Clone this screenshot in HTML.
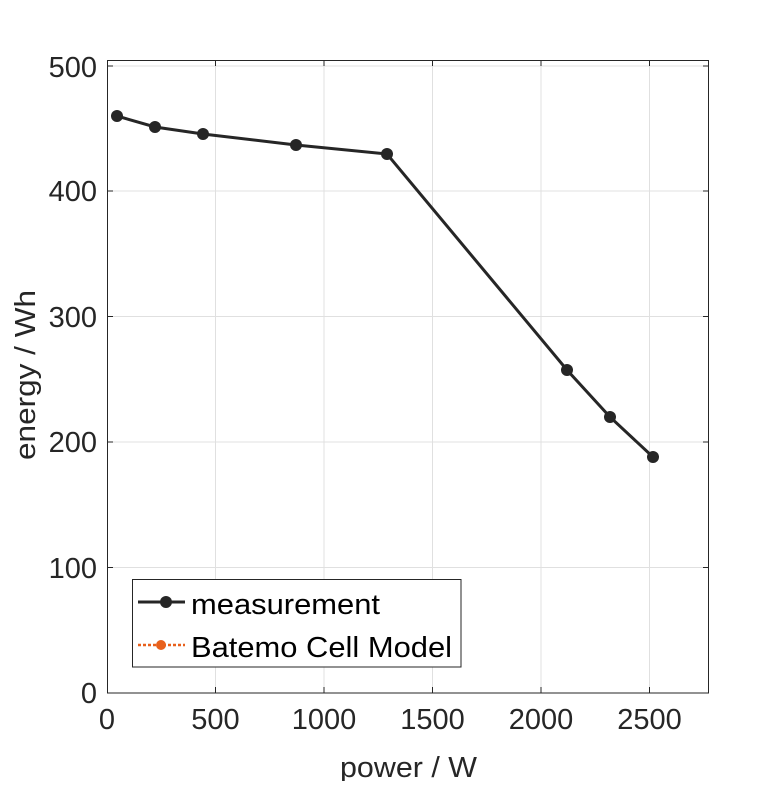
<!DOCTYPE html>
<html><head><meta charset="utf-8"><style>body{margin:0;background:#fff}</style></head><body>
<svg width="781" height="781" xmlns="http://www.w3.org/2000/svg" font-family="Liberation Sans, sans-serif">
<rect width="781" height="781" fill="#fff"/>
<g stroke="#e0e0e0" stroke-width="1">
<line x1="215.5" y1="60" x2="215.5" y2="693"/><line x1="324" y1="60" x2="324" y2="693"/><line x1="432.5" y1="60" x2="432.5" y2="693"/><line x1="541" y1="60" x2="541" y2="693"/><line x1="649.5" y1="60" x2="649.5" y2="693"/>
<line x1="107" y1="567.5" x2="709" y2="567.5"/><line x1="107" y1="442" x2="709" y2="442"/><line x1="107" y1="316.5" x2="709" y2="316.5"/><line x1="107" y1="191" x2="709" y2="191"/><line x1="107" y1="66" x2="709" y2="66"/>
</g>
<rect x="107.5" y="60.5" width="601" height="632.5" fill="none" stroke="#262626" stroke-width="1"/>
<g stroke="#262626" stroke-width="1">
<line x1="215.5" y1="693" x2="215.5" y2="687"/><line x1="324" y1="693" x2="324" y2="687"/><line x1="432.5" y1="693" x2="432.5" y2="687"/><line x1="541" y1="693" x2="541" y2="687"/><line x1="649.5" y1="693" x2="649.5" y2="687"/>
<line x1="215.5" y1="60" x2="215.5" y2="66"/><line x1="324" y1="60" x2="324" y2="66"/><line x1="432.5" y1="60" x2="432.5" y2="66"/><line x1="541" y1="60" x2="541" y2="66"/><line x1="649.5" y1="60" x2="649.5" y2="66"/>
<line x1="107" y1="567.5" x2="113" y2="567.5"/><line x1="107" y1="442" x2="113" y2="442"/><line x1="107" y1="316.5" x2="113" y2="316.5"/><line x1="107" y1="191" x2="113" y2="191"/><line x1="107" y1="66" x2="113" y2="66"/>
<line x1="709" y1="567.5" x2="703" y2="567.5"/><line x1="709" y1="442" x2="703" y2="442"/><line x1="709" y1="316.5" x2="703" y2="316.5"/><line x1="709" y1="191" x2="703" y2="191"/><line x1="709" y1="66" x2="703" y2="66"/>
</g>
<g font-size="29" fill="#262626" text-anchor="middle">
<text x="107" y="729">0</text><text x="215.5" y="729">500</text><text x="324" y="729">1000</text><text x="432.5" y="729">1500</text><text x="541" y="729">2000</text><text x="649.5" y="729">2500</text>
</g>
<g font-size="29" fill="#262626" text-anchor="end">
<text x="97" y="703">0</text><text x="97" y="578">100</text><text x="97" y="452">200</text><text x="97" y="327">300</text><text x="97" y="201">400</text><text x="97" y="77">500</text>
</g>
<text x="340" y="777" font-size="29" fill="#262626" textLength="137" lengthAdjust="spacingAndGlyphs">power / W</text>
<text transform="translate(35,460) rotate(-90)" font-size="29" fill="#262626" textLength="170" lengthAdjust="spacingAndGlyphs">energy / Wh</text>
<polyline points="117,116 155,127 203,134 296,145 387,154 567,370 610,417 653,457" fill="none" stroke="#262626" stroke-width="3"/>
<g fill="#262626">
<circle cx="117" cy="116" r="6"/><circle cx="155" cy="127" r="6"/><circle cx="203" cy="134" r="6"/><circle cx="296" cy="145" r="6"/><circle cx="387" cy="154" r="6"/><circle cx="567" cy="370" r="6"/><circle cx="610" cy="417" r="6"/><circle cx="653" cy="457" r="6"/>
</g>
<rect x="132.5" y="579.5" width="328.5" height="87.5" fill="#fff" stroke="#262626" stroke-width="1"/>
<line x1="138" y1="602" x2="185" y2="602" stroke="#262626" stroke-width="3"/>
<circle cx="166" cy="602" r="6" fill="#262626"/>
<line x1="138" y1="645" x2="185" y2="645" stroke="#e8601c" stroke-width="2.5" stroke-dasharray="3,2"/>
<circle cx="161" cy="645" r="5" fill="#e8601c"/>
<text x="191" y="614" font-size="29" fill="#000" textLength="189" lengthAdjust="spacingAndGlyphs">measurement</text>
<text x="191" y="657" font-size="29" fill="#000" textLength="261" lengthAdjust="spacingAndGlyphs">Batemo Cell Model</text>
</svg>
</body></html>
